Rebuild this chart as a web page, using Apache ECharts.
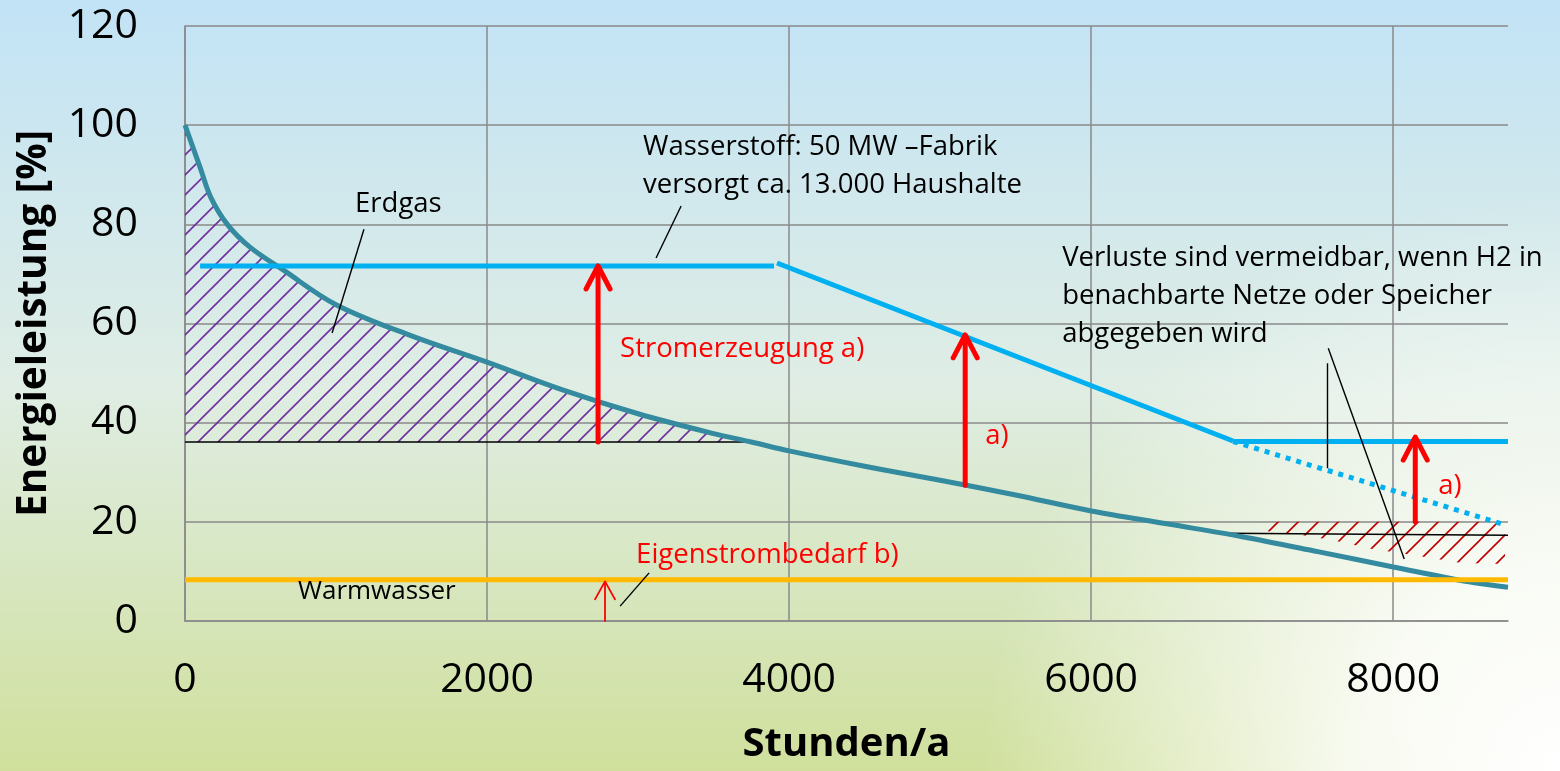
<!DOCTYPE html>
<html>
<head>
<meta charset="utf-8">
<script src="https://cdn.jsdelivr.net/npm/echarts@6/dist/echarts.min.js"></script>
<style>
  html, body { margin: 0; padding: 0; }
  #main { width: 1560px; height: 771px; }
</style>
</head>
<body>
<div id="main"></div>
<script>
// Lastkurve Erdgas (Stunden, %)
const erdgasCurve = [[0, 100], [100, 91.5], [170, 85.5], [280, 80], [430, 75.4], [650, 70.8], [1000, 63.8],
  [1500, 57.5], [2000, 52.2], [2500, 46.6], [3000, 41.8], [3500, 37.8], [3750, 36.1], [4000, 34.3],
  [4500, 31.2], [5000, 28.4], [5500, 25.4], [6000, 22.2], [6500, 19.6], [7000, 17], [7500, 14],
  [8000, 10.9], [8500, 7.9], [8760, 6.8]];
const erdgasBase = [[0, 36.1], [3740, 36.1]];
// Wasserstoff
const h2Flat = [[100, 71.6], [3900, 71.6]];
const h2Slope = [[3920, 72.2], [6940, 36.3]];
const h2Rest = [[6940, 36.2], [8760, 36.2]];
const h2Lost = [[6940, 36.2], [8740, 19.4]];
const warmwasser = [[0, 8.3], [8760, 8.3]];
// Verluste (rot schraffiert)
const lossBase = [[6890, 17.7], [8760, 17.3]];
const lossTop = [[7170, 20], [8740, 20]];
const lossBottom = [[7170, 18.1], [7400, 17.3], [7600, 16.3], [7860, 14.5], [8130, 13.3], [8450, 11.7], [8740, 11.5]];
// Pfeile [x, von, bis]
const bigArrows = [[2735, 36.1, 71.6], [5166, 27.4, 57.7], [8146, 20, 37.1]];
const smallArrows = [[2781, 0, 8]];
// Hinweislinien
const leaderLines = [
  [[1185, 79.0], [974, 58.1]],
  [[3285, 83.7], [3119, 73.2]],
  [[7570, 55.0], [8073, 12.5]],
  [[7563, 52.0], [7563, 30.8]],
  [[3073, 9.7], [2881, 3.0]]
];
const blackNoteText = ['Erdgas', 'Wasserstoff: 50 MW \u2013Fabrik', 'versorgt ca. 13.000 Haushalte',
  'Verluste sind vermeidbar, wenn H2 in', 'benachbarte Netze oder Speicher', 'abgegeben wird'];
const blackNoteAt = [[1126, 84.1], [3033, 95.6], [3033, 87.9], [5808, 73.2], [5808, 65.5], [5808, 57.9]];
const smallNoteText = ['Warmwasser'];
const smallNoteAt = [[748, 5.9]];
const redNoteText = ['Stromerzeugung a)', 'a)', 'a)', 'Eigenstrombedarf b)'];
const redNoteAt = [[2881, 54.8], [5298, 37.3], [8298, 27.2], [2987, 13.3]];

const FONT = "'Open Sans', 'Noto Sans', sans-serif";

function hatch(color, step, width) {
  const c = document.createElement('canvas');
  c.width = c.height = step;
  const g = c.getContext('2d');
  g.strokeStyle = color;
  g.lineWidth = width;
  g.beginPath();
  g.moveTo(0, step); g.lineTo(step, 0);
  g.moveTo(-step / 2, step / 2); g.lineTo(step / 2, -step / 2);
  g.moveTo(step / 2, step * 1.5); g.lineTo(step * 1.5, step / 2);
  g.stroke();
  return c;
}

function arrowItem(width, headHalf, headLen) {
  return function (params, api) {
    const base = api.coord([api.value(0), api.value(1)]);
    const tip = api.coord([api.value(0), api.value(2)]);
    const style = { stroke: '#FF0000', lineWidth: width, fill: null, lineJoin: 'round', lineCap: 'round' };
    return {
      type: 'group',
      children: [
        { type: 'line', shape: { x1: base[0], y1: base[1], x2: tip[0], y2: tip[1] + width / 2 }, style: style },
        { type: 'polyline', shape: { points: [[tip[0] - headHalf, tip[1] + headLen], [tip[0], tip[1]], [tip[0] + headHalf, tip[1] + headLen]] }, style: style }
      ]
    };
  };
}

function noteItem(texts, color, size) {
  return function (params, api) {
    const p = api.coord([api.value(0), api.value(1)]);
    return {
      type: 'text', x: p[0], y: p[1],
      style: { text: texts[params.dataIndex], fill: color, font: size + 'px ' + FONT, align: 'left', verticalAlign: 'middle' }
    };
  };
}

const chart = echarts.init(document.getElementById('main'));
const gridGray = '#8a8a8a';

const option = {
  animation: false,
  backgroundColor: new echarts.graphic.LinearGradient(0, 0, 0, 1, [
    { offset: 0, color: '#c2e3f6' },
    { offset: 0.5, color: '#dfede4' },
    { offset: 1, color: '#d0e09c' }
  ]),
  graphic: [{
    type: 'rect', z: -10, left: 0, top: 0,
    shape: { width: 1560, height: 771 },
    style: {
      fill: new echarts.graphic.RadialGradient(1, 1, 0.75, [
        { offset: 0, color: 'rgba(255,255,255,1)' },
        { offset: 0.35, color: 'rgba(255,255,255,0.85)' },
        { offset: 1, color: 'rgba(255,255,255,0)' }
      ])
    }
  }],
  grid: { left: 185, right: 52, top: 26, bottom: 150 },
  xAxis: {
    type: 'value', min: 0, max: 8760, interval: 2000,
    name: 'Stunden/a', nameLocation: 'middle', nameGap: 104,
    nameTextStyle: { fontSize: 40, fontWeight: 'bold', color: '#000', fontFamily: FONT },
    axisLine: { lineStyle: { color: gridGray, width: 1.5 } },
    axisTick: { show: false },
    axisLabel: { fontSize: 41, color: '#000', margin: 39, fontFamily: FONT, showMaxLabel: false, formatter: v => String(v) },
    splitLine: { show: true, showMaxLine: false, lineStyle: { color: gridGray, width: 1.5 } }
  },
  yAxis: {
    type: 'value', min: 0, max: 120, interval: 20,
    name: 'Energieleistung [%]', nameLocation: 'middle', nameGap: 130, nameRotate: 90,
    nameTextStyle: { fontSize: 40.5, fontWeight: 'bold', color: '#000', fontFamily: FONT },
    axisLine: { show: true, lineStyle: { color: gridGray, width: 1.5 } },
    axisTick: { show: false },
    axisLabel: { fontSize: 41, color: '#000', margin: 47, fontFamily: FONT },
    splitLine: { show: true, lineStyle: { color: gridGray, width: 1.5 } }
  },
  series: [
    {
      name: 'Erdgas-Schraffur', type: 'line', smooth: 0.35, symbol: 'none', z: 2,
      data: erdgasCurve.filter(p => p[0] <= 3750),
      lineStyle: { width: 0 },
      areaStyle: { origin: 36.1, opacity: 1, color: { image: hatch('#7030A0', 20, 1.6), repeat: 'repeat' } }
    },
    {
      name: 'Verlust-Schraffur', type: 'custom', z: 2, data: [0],
      renderItem: function (params, api) {
        const pts = lossTop.concat(lossBottom.slice().reverse()).map(p => api.coord(p));
        return { type: 'polygon', shape: { points: pts }, style: { fill: { image: hatch('#C00000', 20, 1.6), repeat: 'repeat' }, stroke: null } };
      }
    },
    { type: 'line', data: erdgasBase, symbol: 'none', z: 3, lineStyle: { color: '#000', width: 1.5 } },
    { type: 'line', data: lossBase, symbol: 'none', z: 3, lineStyle: { color: '#000', width: 1.5 } },
    {
      name: 'Erdgas', type: 'line', data: erdgasCurve, smooth: 0.35, symbol: 'none', z: 4,
      lineStyle: { color: '#348a9e', width: 5 }
    },
    { type: 'line', data: warmwasser, symbol: 'none', z: 5, lineStyle: { color: '#FFBA00', width: 5 } },
    { type: 'line', data: h2Flat, symbol: 'none', z: 5, lineStyle: { color: '#00B0F0', width: 5 } },
    { type: 'line', data: h2Slope, symbol: 'none', z: 5, lineStyle: { color: '#00B0F0', width: 5 } },
    { type: 'line', data: h2Rest, symbol: 'none', z: 5, lineStyle: { color: '#00B0F0', width: 5 } },
    { type: 'line', data: h2Lost, symbol: 'none', z: 5, lineStyle: { color: '#00B0F0', width: 5, type: [5, 6] } },
    {
      type: 'lines', coordinateSystem: 'cartesian2d', z: 6, symbol: 'none',
      data: leaderLines.map(c => ({ coords: c })),
      lineStyle: { color: '#000', width: 1.4, opacity: 1 }
    },
    { type: 'custom', z: 7, data: bigArrows, encode: { x: 0, y: [1, 2] }, renderItem: arrowItem(5, 12, 23) },
    { type: 'custom', z: 7, data: smallArrows, encode: { x: 0, y: [1, 2] }, renderItem: arrowItem(1.8, 10, 18) },
    { type: 'custom', z: 8, clip: false, data: blackNoteAt, renderItem: noteItem(blackNoteText, '#000', 27.5) },
    { type: 'custom', z: 8, clip: false, data: smallNoteAt, renderItem: noteItem(smallNoteText, '#000', 26) },
    { type: 'custom', z: 8, clip: false, data: redNoteAt, renderItem: noteItem(redNoteText, '#FF0000', 27.5) }
  ]
};
chart.setOption(option);
</script>
</body>
</html>
